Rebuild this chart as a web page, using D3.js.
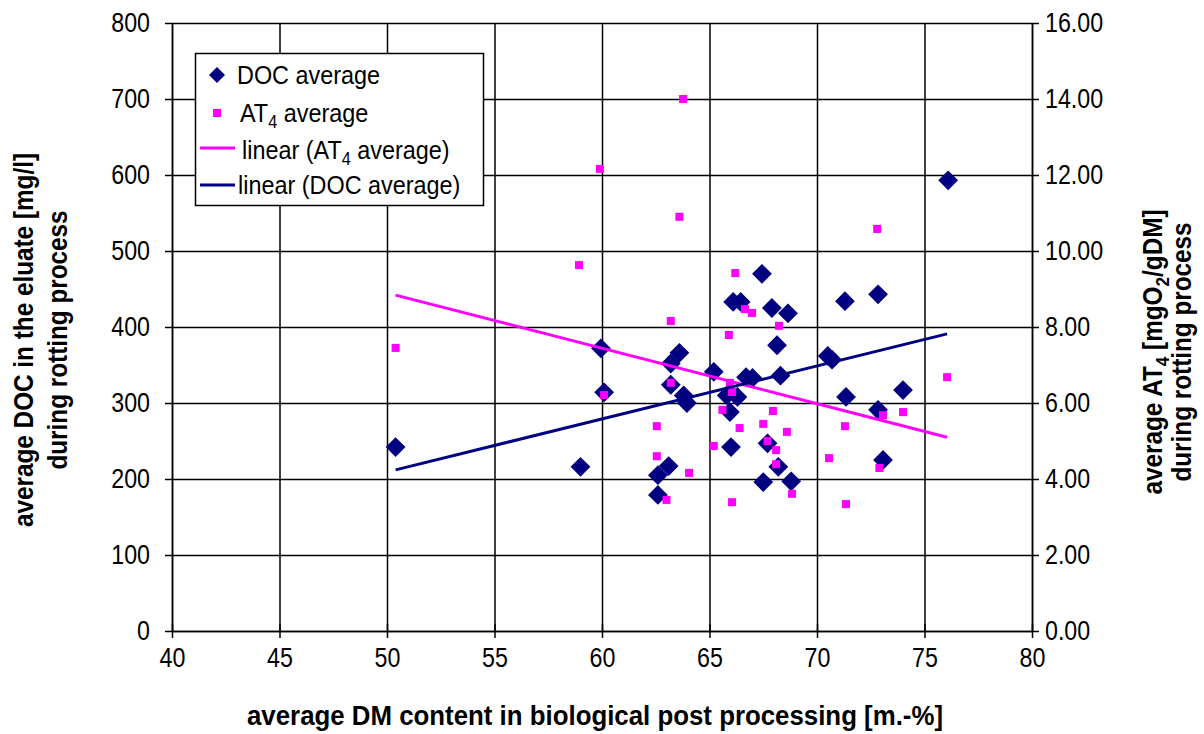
<!DOCTYPE html>
<html>
<head>
<meta charset="utf-8">
<script src="https://cdn.jsdelivr.net/npm/d3@7"></script>
<style>
body{margin:0;background:#fff}
svg{display:block}
text{font-family:"Liberation Sans",Arial,sans-serif;fill:#000}
</style>
</head>
<body>
<svg id="chart" width="1204" height="734"></svg>
<script>
// DOC average (left axis, mg/l) against DM content
var docX = [50.4, 59.0, 59.95, 60.1, 62.6, 62.6, 63.1, 63.2, 63.2, 63.6, 63.8, 63.95, 65.2, 65.8, 65.95, 66.0, 66.1, 66.45, 66.3, 66.7, 67.0, 67.44, 67.5, 67.7, 67.9, 68.14, 68.2, 68.3, 68.65, 68.8, 70.5, 70.7, 71.3, 71.35, 72.84, 72.84, 73.07, 74.0, 76.1];
var docY = [242, 216, 372, 314, 205, 179, 217, 352, 324, 366, 310, 300, 341, 310, 288, 242, 433, 433, 308, 334, 333, 470, 196, 247, 425, 376, 216, 336, 418, 197, 362, 357, 434, 308, 443, 291, 225, 317, 593];
// AT4 average (right axis, mgO2/gDM)
var at4X = [50.4, 58.93, 59.9, 60.1, 62.55, 62.55, 63.0, 63.2, 63.2, 63.6, 63.77, 64.05, 65.2, 65.6, 65.9, 65.95, 66.05, 66.05, 66.2, 66.4, 66.65, 66.98, 67.5, 67.7, 67.95, 68.1, 68.1, 68.23, 68.6, 68.84, 70.56, 71.3, 71.35, 72.8, 72.9, 73.07, 74.0, 76.05];
var at4Y = [7.45, 9.63, 12.16, 6.21, 5.39, 4.6, 3.45, 8.16, 6.53, 10.9, 14.0, 4.16, 4.87, 5.82, 7.79, 6.53, 3.39, 6.29, 9.42, 5.34, 8.47, 8.37, 5.45, 5.0, 5.79, 4.76, 4.39, 8.03, 5.24, 3.61, 4.55, 5.39, 3.34, 10.58, 4.29, 5.68, 5.76, 6.68];
// linear trend end points
var docTrendX = [50.4, 76.05], docTrendY = [212, 391];
var at4TrendX = [50.4, 76.05], at4TrendY = [8.84, 5.1];

var xTicks = [40, 45, 50, 55, 60, 65, 70, 75, 80];
var docTicks = [0, 100, 200, 300, 400, 500, 600, 700, 800];
var at4Ticks = [0, 2, 4, 6, 8, 10, 12, 14, 16];

var NAVY = '#000080', PINK = '#ff00ff';
var pLeft = 172, pRight = 1032, pTop = 23, pBottom = 631;

var svg = d3.select('#chart');
var x = d3.scaleLinear().domain([40, 80]).range([pLeft, pRight]);
var yL = d3.scaleLinear().domain([0, 800]).range([pBottom, pTop]);
var yR = d3.scaleLinear().domain([0, 16]).range([pBottom, pTop]);

// squeeze text a bit to get the tall narrow look
function squeeze(sel, f) {
  sel.each(function() {
    var w = this.getComputedTextLength();
    d3.select(this).attr('textLength', w * f).attr('lengthAdjust', 'spacingAndGlyphs');
  });
}

// grid
svg.append('g')
  .attr('transform', 'translate(0,' + pBottom + ')')
  .call(d3.axisBottom(x).tickValues(xTicks).tickSize(-(pBottom - pTop)).tickFormat(''))
  .call(function(g) { g.select('.domain').remove(); })
  .selectAll('line').attr('stroke', '#000').attr('stroke-width', 1.5);
svg.append('g')
  .attr('transform', 'translate(' + pLeft + ',0)')
  .call(d3.axisLeft(yL).tickValues(docTicks).tickSize(-(pRight - pLeft)).tickFormat(''))
  .call(function(g) { g.select('.domain').remove(); })
  .selectAll('line').attr('stroke', '#000').attr('stroke-width', 1.5);

// axes
var xAxis = svg.append('g')
  .attr('transform', 'translate(0,' + pBottom + ')')
  .call(d3.axisBottom(x).tickValues(xTicks).tickSizeInner(7).tickSizeOuter(0).tickPadding(10));
var lAxis = svg.append('g')
  .attr('transform', 'translate(' + pLeft + ',0)')
  .call(d3.axisLeft(yL).tickValues(docTicks).tickSizeInner(7).tickSizeOuter(0).tickPadding(15));
var rAxis = svg.append('g')
  .attr('transform', 'translate(' + pRight + ',0)')
  .call(d3.axisRight(yR).tickValues(at4Ticks).tickSizeInner(7).tickSizeOuter(0).tickPadding(6)
    .tickFormat(d3.format('.2f')));

[xAxis, lAxis, rAxis].forEach(function(a) {
  a.selectAll('path,line').attr('stroke', '#000').attr('stroke-width', 1.5);
  a.selectAll('text').attr('font-size', 27).attr('font-family', '"Liberation Sans",Arial,sans-serif').attr('fill', '#000');
  squeeze(a.selectAll('text'), 0.86);
});
// cross tick marks on x axis
xAxis.selectAll('.tick line').attr('y1', -7);

// DOC diamonds
var diamond = d3.symbol().type(d3.symbolSquare).size(196);
svg.append('g').selectAll('path')
  .data(docX.map(function(v, i) { return [v, docY[i]]; }))
  .join('path')
  .attr('d', diamond)
  .attr('transform', function(d) { return 'translate(' + x(d[0]) + ',' + yL(d[1]) + ') rotate(45)'; })
  .attr('fill', NAVY);

// AT4 squares
svg.append('g').selectAll('rect')
  .data(at4X.map(function(v, i) { return [v, at4Y[i]]; }))
  .join('rect')
  .attr('x', function(d) { return x(d[0]) - 4; })
  .attr('y', function(d) { return yR(d[1]) - 4; })
  .attr('width', 8).attr('height', 8)
  .attr('fill', PINK);

// trend lines
var lineL = d3.line().x(function(d) { return x(d[0]); }).y(function(d) { return yL(d[1]); });
var lineR = d3.line().x(function(d) { return x(d[0]); }).y(function(d) { return yR(d[1]); });
svg.append('path')
  .attr('d', lineR(at4TrendX.map(function(v, i) { return [v, at4TrendY[i]]; })))
  .attr('stroke', PINK).attr('stroke-width', 3).attr('fill', 'none');
svg.append('path')
  .attr('d', lineL(docTrendX.map(function(v, i) { return [v, docTrendY[i]]; })))
  .attr('stroke', NAVY).attr('stroke-width', 3).attr('fill', 'none');

// legend
var lg = svg.append('g');
lg.append('rect').attr('x', 195.5).attr('y', 53.5).attr('width', 288).attr('height', 152)
  .attr('fill', '#fff').attr('stroke', '#000').attr('stroke-width', 1.5);
lg.append('path').attr('d', d3.symbol().type(d3.symbolSquare).size(128)())
  .attr('transform', 'translate(217,75) rotate(45)').attr('fill', NAVY);
lg.append('rect').attr('x', 213).attr('y', 109).attr('width', 8).attr('height', 8).attr('fill', PINK);
lg.append('line').attr('x1', 200).attr('x2', 235).attr('y1', 148).attr('y2', 148)
  .attr('stroke', PINK).attr('stroke-width', 3);
lg.append('line').attr('x1', 200).attr('x2', 235).attr('y1', 185).attr('y2', 185)
  .attr('stroke', NAVY).attr('stroke-width', 3);

lg.append('text').attr('x', 237).attr('y', 84).attr('font-size', 26).text('DOC average');
var t2 = lg.append('text').attr('x', 240).attr('y', 122).attr('font-size', 26);
t2.append('tspan').text('AT');
t2.append('tspan').attr('font-size', 18).attr('dy', 6).text('4');
t2.append('tspan').attr('dy', -6).text(' average');
var t3 = lg.append('text').attr('x', 242).attr('y', 159).attr('font-size', 26);
t3.append('tspan').text('linear (AT');
t3.append('tspan').attr('font-size', 18).attr('dy', 6).text('4');
t3.append('tspan').attr('dy', -6).text(' average)');
lg.append('text').attr('x', 238).attr('y', 194).attr('font-size', 26).text('linear (DOC average)');
squeeze(lg.selectAll('text'), 0.9);

// axis titles
svg.append('text').attr('x', 595).attr('y', 725).attr('text-anchor', 'middle')
  .attr('font-size', 27).attr('font-weight', 'bold')
  .attr('textLength', 696).attr('lengthAdjust', 'spacingAndGlyphs')
  .text('average DM content in biological post processing [m.-%]');

var lt = svg.append('g').attr('transform', 'translate(0,340) rotate(-90)');
lt.append('text').attr('x', 0).attr('y', 33).attr('text-anchor', 'middle')
  .attr('font-size', 27).attr('font-weight', 'bold')
  .text('average DOC in the eluate [mg/l]');
lt.append('text').attr('x', 0).attr('y', 67).attr('text-anchor', 'middle')
  .attr('font-size', 27).attr('font-weight', 'bold')
  .text('during rotting process');
squeeze(lt.selectAll('text'), 0.9);

var rt = svg.append('g').attr('transform', 'translate(0,352) rotate(-90)');
var r1 = rt.append('text').attr('x', 0).attr('y', 1162).attr('text-anchor', 'middle')
  .attr('font-size', 27).attr('font-weight', 'bold');
r1.append('tspan').text('average AT');
r1.append('tspan').attr('font-size', 19).attr('dy', 7).text('4');
r1.append('tspan').attr('dy', -7).text(' [mgO');
r1.append('tspan').attr('font-size', 19).attr('dy', 7).text('2');
r1.append('tspan').attr('dy', -7).text('/gDM]');
rt.append('text').attr('x', 0).attr('y', 1191).attr('text-anchor', 'middle')
  .attr('font-size', 27).attr('font-weight', 'bold')
  .text('during rotting process');
squeeze(rt.selectAll('text'), 0.9);
</script>
</body>
</html>
